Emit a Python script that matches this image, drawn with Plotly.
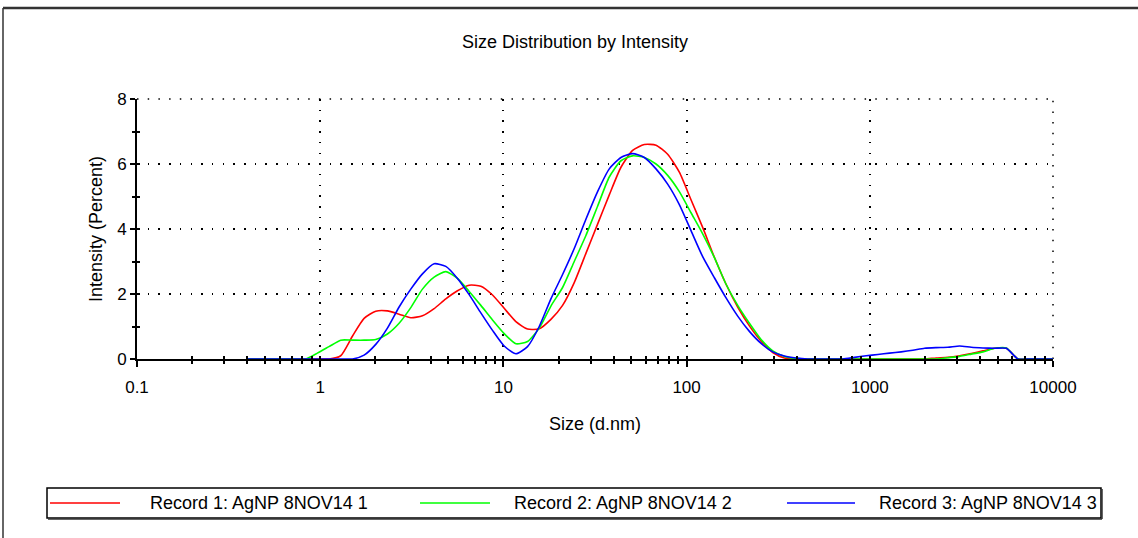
import plotly.graph_objects as go

# ---------------- data ----------------
SIZES = [0.4, 0.4632, 0.5365, 0.6213, 0.7195, 0.8332, 0.9649, 1.117, 1.294, 1.499,
         1.736, 2.01, 2.328, 2.696, 3.122, 3.615, 4.187, 4.849, 5.615, 6.503,
         7.531, 8.721, 10.1, 11.7, 13.54, 15.69, 18.17, 21.04, 24.36, 28.21,
         32.67, 37.84, 43.82, 50.75, 58.77, 68.06, 78.82, 91.28, 105.7, 122.4,
         141.8, 164.2, 190.1, 220.2, 255.0, 295.3, 342.0, 396.1, 458.7, 531.2,
         615.1, 712.4, 825.0, 955.4, 1106, 1281, 1484, 1718, 1990, 2305,
         2669, 3091, 3580, 4145, 4801, 5560, 6439, 7456, 8635, 10000]

RECORD_1 = [0, 0, 0, 0, 0, 0, 0, 0, 0.1, 0.7,
            1.25, 1.47, 1.48, 1.38, 1.27, 1.33, 1.55, 1.85, 2.1, 2.27,
            2.24, 1.97, 1.56, 1.15, 0.92, 0.93, 1.22, 1.65, 2.35, 3.25,
            4.15, 5.05, 5.9, 6.42, 6.6, 6.58, 6.3, 5.75, 4.9, 4.05,
            3.13, 2.3, 1.6, 1.02, 0.55, 0.2, 0.03, 0, 0, 0,
            0, 0, 0, 0, 0, 0, 0, 0, 0, 0.03,
            0.05, 0.1, 0.17, 0.25, 0.33, 0.33, 0, 0, 0, 0]

RECORD_2 = [0, 0, 0, 0, 0, 0, 0.18, 0.38, 0.58, 0.58,
            0.58, 0.6, 0.77, 1.1, 1.58, 2.15, 2.52, 2.69, 2.48, 2.08,
            1.65, 1.2, 0.78, 0.47, 0.54, 0.95, 1.63, 2.2, 3.0, 3.8,
            4.7, 5.6, 6.1, 6.25, 6.2, 6.0, 5.65, 5.15, 4.5, 3.85,
            3.12, 2.3, 1.65, 1.1, 0.6, 0.25, 0.08, 0.02, 0, 0,
            0, 0, 0, 0, 0, 0, 0, 0, 0, 0,
            0.04, 0.08, 0.15, 0.22, 0.33, 0.34, 0, 0, 0, 0]

RECORD_3 = [0, 0, 0, 0, 0, 0, 0, 0, 0, 0,
            0.12, 0.45, 0.95, 1.6, 2.15, 2.62, 2.93, 2.85, 2.48, 1.98,
            1.42, 0.88, 0.4, 0.16, 0.38, 1.0, 1.85, 2.6, 3.4, 4.3,
            5.15, 5.85, 6.2, 6.32, 6.2, 5.85, 5.38, 4.75, 3.95, 3.15,
            2.5, 1.88, 1.32, 0.85, 0.48, 0.22, 0.09, 0.03, 0, 0,
            0, 0, 0.05, 0.1, 0.14, 0.18, 0.22, 0.27, 0.33, 0.35,
            0.36, 0.4, 0.36, 0.34, 0.33, 0.33, 0, 0, 0, 0]

NAMES = ["Record 1: AgNP 8NOV14 1", "Record 2: AgNP 8NOV14 2", "Record 3: AgNP 8NOV14 3"]
COLORS = ["#ff0000", "#00ff00", "#0000ff"]
SERIES = [RECORD_1, RECORD_2, RECORD_3]

X_TICKS = [0.1, 1, 10, 100, 1000, 10000]
X_TICK_LABELS = ["0.1", "1", "10", "100", "1000", "10000"]
Y_TICKS = [0, 2, 4, 6, 8]
Y_MINOR = [1, 3, 5, 7]
X_MINOR = [m * 10.0 ** e for e in range(-1, 4) for m in range(2, 10)]

TITLE = "Size Distribution by Intensity"
X_TITLE = "Size (d.nm)"
Y_TITLE = "Intensity (Percent)"

# ---------------- layout geometry ----------------
W, H = 1138, 538
L, R, T, B = 137, 1053, 99, 359   # plot area in pixels
FONT = "Arial, Liberation Sans, sans-serif"
FS_TICK = 17
FS = 18
DOTS = "1.5px,9.2px"


def px(xp):
    return (xp - L) / (R - L)


def py(yp):
    return (B - yp) / (B - T)


fig = go.Figure()
for name, color, vals in zip(NAMES, COLORS, SERIES):
    fig.add_trace(go.Scatter(x=SIZES, y=vals, mode="lines", name=name,
                             line=dict(color=color, width=1.6, shape="spline", smoothing=0.6),
                             showlegend=False))
# helper trace so the overlay axes (inside ticks) are drawn
fig.add_trace(go.Scatter(x=[], y=[], xaxis="x2", yaxis="y2", showlegend=False, hoverinfo="skip"))

tickfont = dict(family=FONT, size=FS_TICK, color="black")
titlefont = dict(family=FONT, size=FS, color="black")
GRID = dict(showgrid=True, gridcolor="#000", gridwidth=1.5, griddash=DOTS)

fig.update_layout(
    width=W, height=H,
    margin=dict(l=L, r=W - R, t=T, b=H - B, pad=0),
    paper_bgcolor="white", plot_bgcolor="white",
    font=dict(family=FONT, size=FS, color="black"),
    title=dict(text=TITLE, x=575 / W, xanchor="center", y=1 - 42 / H, yanchor="middle",
               xref="container", yref="container", font=titlefont),
    xaxis=dict(type="log", range=[-1, 4], showline=True, linecolor="black", linewidth=2,
               ticks="outside", ticklen=6, tickwidth=1.5, tickcolor="black",
               tickmode="array", tickvals=X_TICKS, ticktext=X_TICK_LABELS,
               ticklabelstandoff=6, tickfont=tickfont, zeroline=False,
               minor=dict(tickmode="array", tickvals=X_MINOR, ticks="outside", ticklen=3,
                          tickwidth=1.5, tickcolor="black", showgrid=False),
               title=dict(text=X_TITLE, standoff=21, font=titlefont), **GRID),
    yaxis=dict(range=[0, 8], showline=True, linecolor="black", linewidth=2,
               ticks="outside", ticklen=5, tickwidth=1.5, tickcolor="black",
               tickmode="array", tickvals=Y_TICKS, tickfont=tickfont, zeroline=False,
               minor=dict(tickmode="array", tickvals=Y_MINOR, ticks="outside", ticklen=3,
                          tickwidth=1.5, tickcolor="black", showgrid=False),
               title=dict(text=Y_TITLE, standoff=10, font=titlefont), **GRID),
    xaxis2=dict(type="log", range=[-1, 4], overlaying="x", anchor="y2", side="bottom",
                showline=False, showgrid=False, zeroline=False, showticklabels=False,
                ticks="inside", ticklen=3, tickwidth=1.5, tickcolor="black",
                tickmode="array", tickvals=X_TICKS,
                minor=dict(tickmode="array", tickvals=X_MINOR, ticks="inside", ticklen=3,
                           tickwidth=1.5, tickcolor="black", showgrid=False)),
    yaxis2=dict(range=[0, 8], overlaying="y", anchor="x2", side="left",
                showline=False, showgrid=False, zeroline=False, showticklabels=False,
                ticks="inside", ticklen=3, tickwidth=1.5, tickcolor="black",
                tickmode="array", tickvals=Y_TICKS,
                minor=dict(tickmode="array", tickvals=Y_MINOR, ticks="inside", ticklen=3,
                           tickwidth=1.5, tickcolor="black", showgrid=False)),
)

shapes = []
# dotted grid at the top (y = 8) and right (x = 10000) edges of the plot area
shapes.append(dict(type="line", xref="paper", yref="paper", x0=0, x1=1, y0=1, y1=1, layer="below",
                   line=dict(color="#000", width=1.5, dash=DOTS)))
shapes.append(dict(type="line", xref="paper", yref="paper", x0=1, x1=1, y0=0, y1=1, layer="below",
                   line=dict(color="#000", width=1.5, dash=DOTS)))
# outer frame (top and left edges)
shapes.append(dict(type="line", xref="paper", yref="paper", x0=px(3), x1=px(W + 5), y0=py(8), y1=py(8),
                   line=dict(color="#333", width=2.5)))
shapes.append(dict(type="line", xref="paper", yref="paper", x0=px(3), x1=px(3), y0=py(8), y1=py(H + 5),
                   line=dict(color="#333", width=1.5)))
# legend box
shapes.append(dict(type="rect", xref="paper", yref="paper", x0=px(47), x1=px(1101), y0=py(488), y1=py(518),
                   line=dict(color="black", width=1.5)))
shapes.append(dict(type="line", xref="paper", yref="paper", x0=px(48), x1=px(1102), y0=py(519), y1=py(519),
                   line=dict(color="#333", width=1.5)))
shapes.append(dict(type="line", xref="paper", yref="paper", x0=px(1102), x1=px(1102), y0=py(489), y1=py(519),
                   line=dict(color="#333", width=1.5)))

LEG_LINE_X = [(50, 120), (420, 490), (787, 855)]
LEG_TEXT_X = [148, 512, 877]
LEG_Y = 503
annotations = []
for (x0, x1), tx, name, color in zip(LEG_LINE_X, LEG_TEXT_X, NAMES, COLORS):
    shapes.append(dict(type="line", xref="paper", yref="paper", x0=px(x0), x1=px(x1),
                       y0=py(LEG_Y), y1=py(LEG_Y), line=dict(color=color, width=1.6)))
    annotations.append(dict(text=name, xref="paper", yref="paper", x=px(tx), y=py(LEG_Y),
                            xanchor="left", yanchor="middle", showarrow=False,
                            font=dict(family=FONT, size=FS, color="black")))

fig.update_layout(shapes=shapes, annotations=annotations)
fig.write_html("out.html", config={"displayModeBar": False},
               post_script="document.body.style.margin='0px';")
